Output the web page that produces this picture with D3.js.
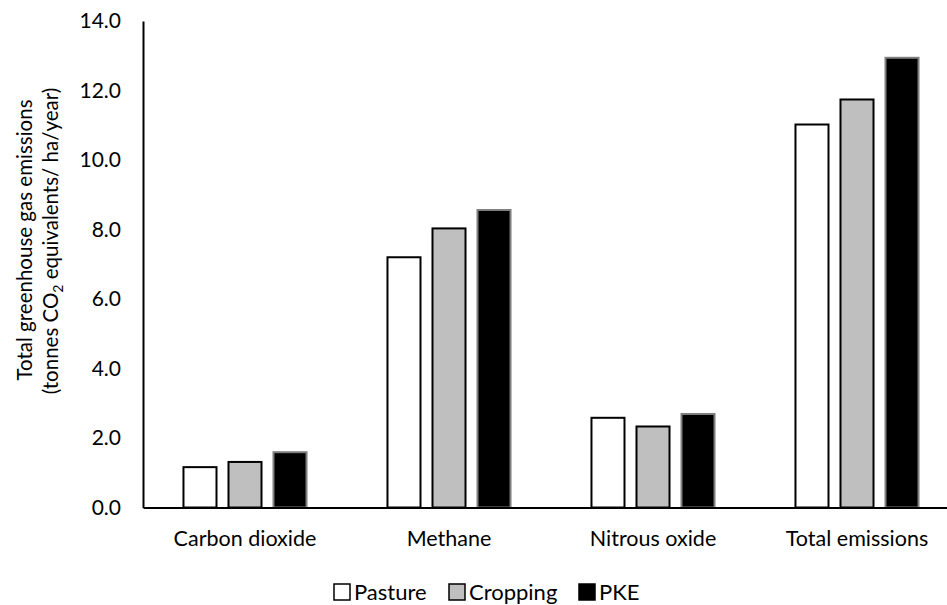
<!DOCTYPE html>
<html><head><meta charset="utf-8">
<script src="https://cdn.jsdelivr.net/npm/d3@7"></script>
<style>body{margin:0;background:#fff}svg{display:block}text{font-family:Lato,"Open Sans",sans-serif;fill:#000}</style>
</head><body><svg id="c" width="947" height="605"></svg>
<script>
const categories = ["Carbon dioxide","Methane","Nitrous oxide","Total emissions"];
const seriesNames = ["Pasture","Cropping","PKE"];
const pasture = [1.19, 7.23, 2.61, 11.05];
const cropping = [1.34, 8.06, 2.36, 11.77];
const pke = [1.62, 8.59, 2.72, 12.97];
const yTicks = [0,2,4,6,8,10,12,14];
const seriesValues = [pasture, cropping, pke];
const fills = ["#ffffff","#bfbfbf","#000000"];
const strokes = ["#000000","#000000","#7f7f7f"];

const svg = d3.select("#c");
const x0 = d3.scaleBand().domain(categories).range([143, 959]).paddingInner(0.387).paddingOuter(0.1935);
const x1 = d3.scaleBand().domain(seriesNames).range([0, x0.bandwidth()]).paddingInner(0.222).paddingOuter(0);
const y = d3.scaleLinear().domain([0,14]).range([507.5, 21]);

// bars
categories.forEach((c,ci)=>{
  const g = svg.append("g").attr("transform",`translate(${x0(c)},0)`);
  seriesNames.forEach((s,si)=>{
    const v = seriesValues[si][ci];
    g.append("rect").attr("x",x1(s)+1).attr("width",x1.bandwidth()-2)
      .attr("y",y(v)+1).attr("height",y(0)-y(v)-1)
      .attr("fill",fills[si]).attr("stroke",strokes[si]).attr("stroke-width",2);
  });
});

// y axis
const yAxis = d3.axisLeft(y).tickValues(yTicks).tickFormat(d3.format(".1f")).tickSize(0).tickPadding(22);
const ya = svg.append("g").attr("transform","translate(143,0)").call(yAxis);
ya.select(".domain").attr("stroke","#000").attr("stroke-width",2);
ya.selectAll("text").attr("font-size",21).attr("font-family","Lato, sans-serif").attr("fill","#000");

// x axis
const xa = svg.append("g").attr("transform","translate(0,507.5)").call(d3.axisBottom(x0).tickSize(0).tickPadding(23));
xa.select(".domain").attr("stroke","#000").attr("stroke-width",2);
xa.selectAll("text").attr("font-size",21.5).attr("font-family","Lato, sans-serif").attr("fill","#000");

// y title
const t = svg.append("text").attr("transform","translate(32,240) rotate(-90)").attr("text-anchor","middle").attr("font-size",20.5);
t.append("tspan").attr("x",0).attr("y",0).text("Total greenhouse gas emissions");
const t2 = svg.append("text").attr("transform","translate(58,241) rotate(-90)").attr("text-anchor","middle").attr("font-size",20.5);
t2.append("tspan").text("(tonnes CO");
t2.append("tspan").attr("font-size",14).attr("dy",5).text("2");
t2.append("tspan").attr("dy",-5).text(" equivalents/ ha/year)");

// legend
const legX = [333, 448, 578];
seriesNames.forEach((s,i)=>{
  const g = svg.append("g").attr("transform",`translate(${legX[i]},592)`);
  g.append("rect").attr("x",1).attr("y",-8).attr("width",16).attr("height",16)
    .attr("fill",fills[i]).attr("stroke","#000").attr("stroke-width",1.5);
  g.append("text").attr("x",21).attr("y",0).attr("dy","0.35em").attr("font-size",22).text(s);
});
</script></body></html>
